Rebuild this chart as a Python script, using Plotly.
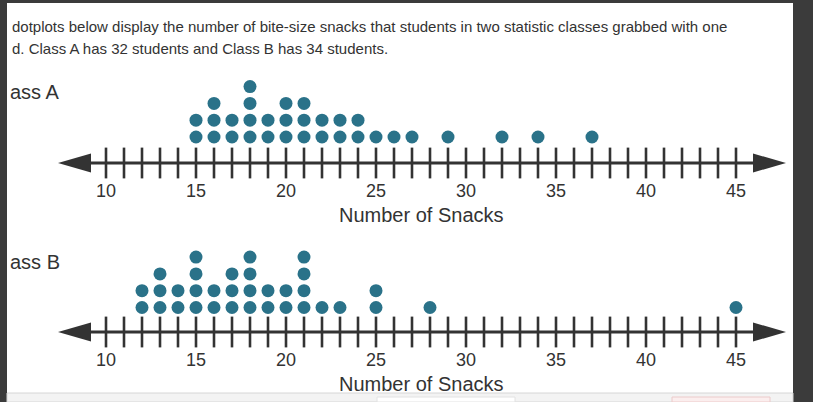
import plotly.graph_objects as go

# ---------------- data ----------------
class_a_snacks = [15, 15, 16, 16, 16, 17, 17, 18, 18, 18, 18, 19, 19, 20, 20, 20,
                  21, 21, 21, 22, 22, 23, 23, 24, 24, 25, 26, 27, 29, 32, 34, 37]
class_b_snacks = [12, 12, 13, 13, 13, 14, 14, 15, 15, 15, 15, 16, 16, 17, 17, 17,
                  18, 18, 18, 18, 19, 19, 20, 20, 21, 21, 21, 21, 22, 23, 25, 25, 28, 45]
tick_values = list(range(10, 46))
label_values = [10, 15, 20, 25, 30, 35, 40, 45]
label_texts = ["10", "15", "20", "25", "30", "35", "40", "45"]
panel_names = ["ass A", "ass B"]
axis_title = "Number of Snacks"
intro_lines = [
    "dotplots below display the number of bite-size snacks that students in two statistic classes grabbed with one",
    "d. Class A has 32 students and Class B has 34 students.",
]

# ---------------- layout helpers ----------------
W, H = 813, 402
PX_PER_UNIT = 18.0
X10_PX = 106.0
ROW = 16.8
DOT = "#2a7289"
INK = "#333333"
FONT = "Liberation Sans, Arial, sans-serif"


def v_of_px(px):
    return 10 + (px - X10_PX) / PX_PER_UNIT


def stack(values):
    seen = {}
    ys = []
    for v in values:
        seen[v] = seen.get(v, 0) + 1
        ys.append(seen[v])
    return ys


panels = [
    dict(vals=class_a_snacks, axis_px=163.0, row1_px=137.0, yref="y", name_px=92),
    dict(vals=class_b_snacks, axis_px=332.0, row1_px=307.5, yref="y2", name_px=262),
]

fig = go.Figure()
shapes = []
annotations = []

x_lo, x_hi = v_of_px(0), v_of_px(W)
tipL, baseL = v_of_px(58), v_of_px(91)
baseR, tipR = v_of_px(753), v_of_px(786)

for i, p in enumerate(panels):
    lvl = lambda px, p=p: 1 + (p["row1_px"] - px) / ROW
    p["range"] = [lvl(H), lvl(0)]
    yax = p["yref"]
    ax_l = lvl(p["axis_px"])
    half = 9.5 / ROW
    # axis line
    shapes.append(dict(type="line", xref="x", yref=yax, x0=tipL + 0.5, x1=tipR - 0.5,
                       y0=ax_l, y1=ax_l, line=dict(color=INK, width=3)))
    # arrow heads
    shapes.append(dict(type="path", xref="x", yref=yax,
                       path=f"M {tipL},{ax_l} L {baseL},{ax_l + half} L {baseL},{ax_l - half} Z",
                       fillcolor=INK, line=dict(width=0)))
    shapes.append(dict(type="path", xref="x", yref=yax,
                       path=f"M {tipR},{ax_l} L {baseR},{ax_l + half} L {baseR},{ax_l - half} Z",
                       fillcolor=INK, line=dict(width=0)))
    # tick marks
    fig.add_trace(go.Scatter(x=tick_values, y=[ax_l] * len(tick_values), mode="markers",
                             yaxis=yax, hoverinfo="skip", showlegend=False,
                             marker=dict(symbol="line-ns", size=22,
                                         line=dict(color=INK, width=2.6))))
    # dots
    fig.add_trace(go.Scatter(x=p["vals"], y=stack(p["vals"]), mode="markers", yaxis=yax,
                             showlegend=False,
                             marker=dict(size=13, color=DOT, line=dict(width=0))))
    # tick labels
    for v, t in zip(label_values, label_texts):
        annotations.append(dict(x=v, y=ax_l, xref="x", yref=yax, text=t, showarrow=False,
                                yshift=-28, font=dict(family=FONT, size=18, color=INK)))
    # axis title
    annotations.append(dict(x=27.5, y=ax_l, xref="x", yref=yax, text=axis_title,
                            showarrow=False, yshift=-52,
                            font=dict(family=FONT, size=20, color=INK)))
    # panel name
    annotations.append(dict(x=8 / W, y=1 - p["name_px"] / H, xref="paper", yref="paper",
                            text=panel_names[i], showarrow=False, xanchor="left",
                            yanchor="middle", font=dict(family=FONT, size=20, color=INK)))

for j, line in enumerate(intro_lines):
    annotations.append(dict(x=10 / W, y=1 - (27 + 21 * j) / H, xref="paper", yref="paper",
                            text=line, showarrow=False, xanchor="left", yanchor="middle",
                            font=dict(family=FONT, size=15, color=INK)))

# page frame decorations
FRAME = "#3b3b3b"
shapes += [
    dict(type="rect", xref="paper", yref="paper", x0=0, x1=7 / W, y0=0, y1=1,
         fillcolor=FRAME, line=dict(width=0), layer="below"),
    dict(type="rect", xref="paper", yref="paper", x0=793 / W, x1=1, y0=0, y1=1,
         fillcolor=FRAME, line=dict(width=0), layer="below"),
    dict(type="rect", xref="paper", yref="paper", x0=0, x1=1, y0=1 - 3 / H, y1=1,
         fillcolor=FRAME, line=dict(width=0), layer="below"),
    dict(type="rect", xref="paper", yref="paper", x0=7 / W, x1=793 / W, y0=0, y1=1 - 393 / H,
         fillcolor="#f3f3f3", line=dict(color="#d6d6d6", width=1), layer="below"),
    dict(type="rect", xref="paper", yref="paper", x0=377 / W, x1=515 / W, y0=0, y1=1 - 397 / H,
         fillcolor="#ffffff", line=dict(color="#e2e2e2", width=1), layer="below"),
    dict(type="rect", xref="paper", yref="paper", x0=672 / W, x1=770 / W, y0=0, y1=1 - 397 / H,
         fillcolor="#fbeeee", line=dict(color="#eccaca", width=1), layer="below"),
]

fig.update_layout(
    width=W, height=H, margin=dict(l=0, r=0, t=0, b=0),
    paper_bgcolor="white", plot_bgcolor="white",
    xaxis=dict(range=[x_lo, x_hi], domain=[0, 1], visible=False, fixedrange=True),
    yaxis=dict(range=panels[0]["range"], domain=[0, 1], visible=False, fixedrange=True),
    yaxis2=dict(range=panels[1]["range"], domain=[0, 1], visible=False, overlaying="y",
                fixedrange=True),
    shapes=shapes, annotations=annotations,
)

fig.write_html("out.html", config={"displayModeBar": False},
               post_script="document.body.style.margin='0';document.body.style.overflow='hidden';")
